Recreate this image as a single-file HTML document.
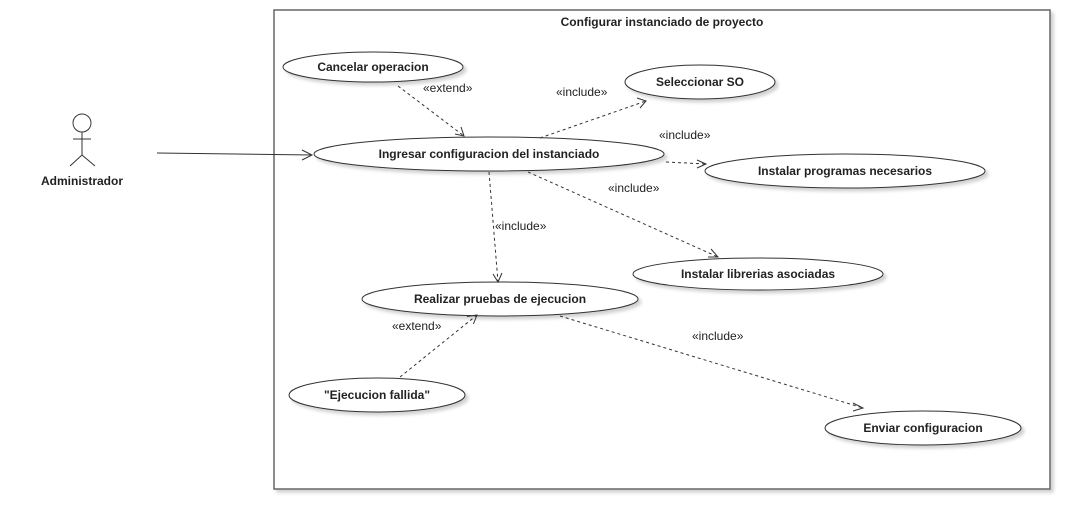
<!DOCTYPE html>
<html><head><meta charset="utf-8"><style>body{margin:0;background:#fff}svg{display:block}text{font-family:"Liberation Sans",Arial,sans-serif;fill:#222}</style></head><body>
<svg width="1090" height="530" viewBox="0 0 1090 530" xmlns="http://www.w3.org/2000/svg">
<defs><filter id="s" x="-10%" y="-10%" width="130%" height="150%"><feDropShadow dx="3" dy="3" stdDeviation="1.5" flood-color="#000" flood-opacity="0.18"/></filter></defs>
<rect x="274" y="10" width="776" height="479" fill="#fff" stroke="#666" stroke-width="1.5" filter="url(#s)"/>
<text x="662" y="26" font-size="12" font-weight="bold" text-anchor="middle">Configurar instanciado de proyecto</text>
<g fill="#fff" stroke="#333" stroke-width="1" filter="url(#s)">
<ellipse cx="373" cy="67" rx="90" ry="15"/>
<ellipse cx="700" cy="82" rx="75" ry="17"/>
<ellipse cx="489" cy="154" rx="175" ry="17"/>
<ellipse cx="845" cy="171" rx="140" ry="17"/>
<ellipse cx="758" cy="274" rx="125" ry="16"/>
<ellipse cx="500" cy="299" rx="138" ry="17"/>
<ellipse cx="377" cy="395" rx="88" ry="17"/>
<ellipse cx="923" cy="428" rx="98" ry="17"/>
</g>
<g font-size="12" font-weight="bold" text-anchor="middle">
<text x="373" y="71">Cancelar operacion</text>
<text x="700" y="86">Seleccionar SO</text>
<text x="489" y="158">Ingresar configuracion del instanciado</text>
<text x="845" y="175">Instalar programas necesarios</text>
<text x="758" y="278">Instalar librerias asociadas</text>
<text x="500" y="303">Realizar pruebas de ejecucion</text>
<text x="377" y="399">"Ejecucion fallida"</text>
<text x="923" y="432">Enviar configuracion</text>
</g>
<g stroke="#333" fill="none" stroke-width="1">
<circle cx="82" cy="123" r="9"/>
<path d="M82 132V155M73 139H91M82 155L70 166M82 155L95 166"/>
<path d="M157 153L312 155M302 150L312 155L302 160"/>
</g>
<text x="82" y="185" font-size="12" font-weight="bold" text-anchor="middle">Administrador</text>
<g stroke="#333" fill="none" stroke-width="1" stroke-dasharray="3,3">
<path d="M398 86L464 136"/>
<path d="M540 138L646 101"/>
<path d="M666 162L706 164"/>
<path d="M528 172L718 257"/>
<path d="M489 172L498 282"/>
<path d="M400 377L477 315"/>
<path d="M560 316L863 408"/>
</g>
<g stroke="#333" fill="none" stroke-width="1">
<path d="M455 134L464 136L461 127"/>
<path d="M637 98L646 101L640 108"/>
<path d="M697 160L706 164L697 168"/>
<path d="M708 257L718 257L711 249"/>
<path d="M493 274L498 282L502 273"/>
<path d="M467 316.5L477 315L473.4 324"/>
<path d="M853 403L863 408L853 411"/>
</g>
<g font-size="12" fill="#333">
<text x="423" y="92">«extend»</text>
<text x="556" y="96">«include»</text>
<text x="659" y="139">«include»</text>
<text x="608" y="192">«include»</text>
<text x="495" y="230">«include»</text>
<text x="392" y="330">«extend»</text>
<text x="692" y="340">«include»</text>
</g>
</svg>
</body></html>
